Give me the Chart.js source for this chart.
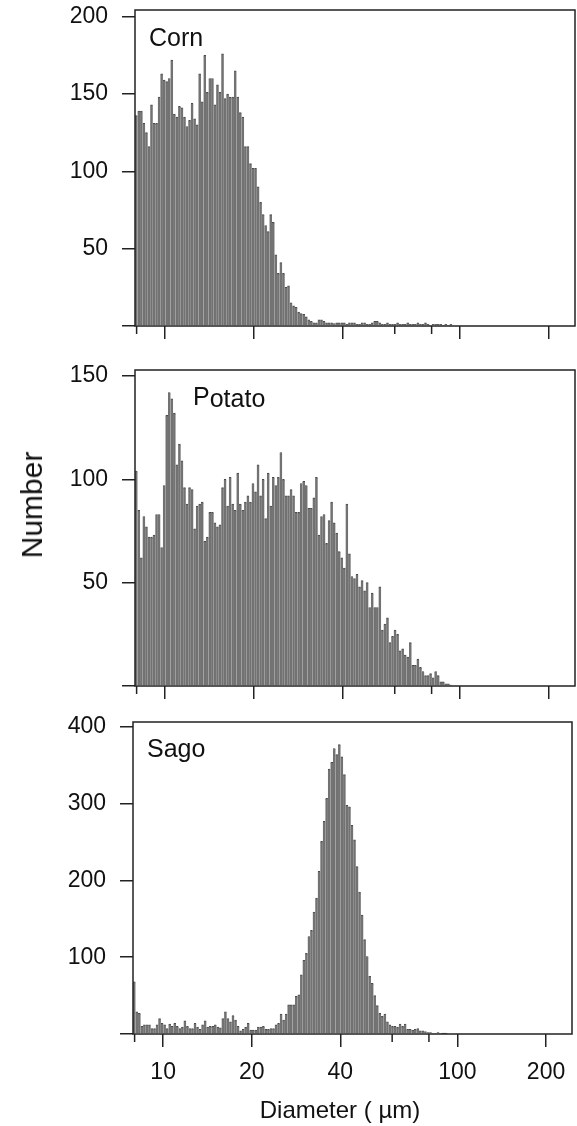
<!DOCTYPE html>
<html>
<head>
<meta charset="utf-8">
<script src="https://cdn.jsdelivr.net/npm/chart.js@4.4.1/dist/chart.umd.min.js"></script>
<style>
  body { margin: 0; background: #fff; width: 577px; height: 1126px; position: relative; overflow: hidden;
         font-family: 'Liberation Sans', Arial, sans-serif; color: #111; }
  canvas { position: absolute; left: 0; }
  .lbl { position: absolute; line-height: 1; white-space: nowrap; }
</style>
</head>
<body>
<canvas id="corn" width="577" height="340" style="top:0px"></canvas>
<canvas id="potato" width="577" height="340" style="top:360px"></canvas>
<canvas id="sago" width="577" height="414" style="top:712px"></canvas>

<div class="lbl" style="left:149px; top:25px; font-size:25px;">Corn</div>
<div class="lbl" style="left:193px; top:384px; font-size:25px;">P<span style="position:relative; top:2px;">otato</span></div>
<div class="lbl" style="left:147px; top:736px; font-size:25px;">Sago</div>
<div class="lbl" style="left:32px; top:505px; font-size:30px; transform:translate(-50%,-50%) rotate(-90deg);">Number</div>
<div class="lbl" style="left:340px; top:1098px; font-size:24px; transform:translateX(-50%);">Diameter ( µm)</div>

<script>
// channel layout: 35 channels per octave starting at 7.9 um
var binStart = 7.9;
var binsPerOctave = 35;
var xMin = 7.9, xMax = 245;
var xMajorTicks = [10, 20, 40, 100, 200];
var xMinorTicks = [8, 60, 80];

var cornCounts = [
  136, 139, 139, 131, 125, 116, 143, 131, 131, 148,
  163, 159, 158, 160, 172, 137, 135, 142, 141, 135,
  129, 133, 144, 134, 130, 163, 145, 175, 151, 160,
  160, 143, 156, 151, 176, 147, 150, 148, 148, 165,
  148, 138, 135, 116, 116, 105, 102, 102, 90, 80,
  72, 65, 61, 72, 67, 46, 34, 41, 34, 25,
  26, 15, 13, 12, 9, 8, 7.5, 6, 4, 3,
  2, 2, 4, 4, 3, 2, 2, 2, 1.5, 2,
  2, 2, 2, 1, 2, 2, 2, 1, 1, 2,
  2, 1, 1, 2, 3, 3, 2, 1, 1, 2,
  1, 1, 1, 2, 1, 1, 1, 2, 1, 1,
  1, 2, 1, 1, 2, 1, 0, 1, 1, 1,
  1, 0, 1, 0, 1
];

var potatoCounts = [
  104, 85, 62, 82, 77, 72, 72, 73, 83, 83,
  67, 97, 131, 142, 139, 132, 107, 117, 109, 96,
  88, 96, 95, 76, 87, 88, 89, 70, 72, 84,
  84, 79, 77, 78, 96, 100, 87, 101, 88, 85,
  103, 88, 85, 89, 92, 89, 98, 94, 107, 92,
  100, 81, 103, 87, 101, 97, 101, 113, 100, 92,
  92, 95, 92, 84, 84, 98, 99, 97, 86, 86,
  91, 101, 73, 82, 83, 69, 80, 89, 79, 74,
  65, 62, 57, 88, 64, 53, 52, 54, 48, 51,
  46, 50, 38, 45, 38, 38, 48, 27, 30, 33,
  21, 24, 27, 25, 17, 18, 15, 14, 21, 10,
  10, 13, 9, 7, 5, 5, 6, 4, 7, 5,
  2, 2, 1, 1, 0.5
];

var sagoCounts = [
  68, 29, 27, 10, 12, 12, 12, 7, 7, 12,
  20, 14, 12, 7, 13, 10, 14, 10, 7, 9,
  17, 10, 7, 7, 14, 9, 6, 12, 17, 9,
  10, 10, 12, 9, 8, 20, 29, 20, 16, 24,
  18, 10, 4, 6, 9, 14, 5, 5, 5, 9,
  9, 10, 6, 6, 7, 7, 12, 14, 26, 18,
  26, 38, 38, 38, 49, 51, 77, 96, 105, 127,
  135, 159, 177, 212, 251, 277, 307, 345, 354, 372,
  364, 377, 361, 338, 298, 296, 272, 253, 218, 185,
  155, 123, 101, 75, 66, 50, 37, 27, 23, 26,
  16, 12, 10, 10, 9, 13, 10, 13, 6, 6,
  5, 6, 7, 4, 4, 3, 2, 2, 1, 1,
  2, 1, 0.5, 0.5
];

var cornYTicks = [0, 50, 100, 150, 200];
var potatoYTicks = [0, 50, 100, 150];
var sagoYTicks = [0, 100, 200, 300, 400];

var fontFamily = "'Liberation Sans', Arial, sans-serif";

function binCentre(k) {
  return binStart * Math.pow(2, (k + 0.5) / binsPerOctave);
}

// box round the plot + the short ticks at 8, 60 and 80
var framePlugin = {
  id: 'frame',
  afterDraw: function (chart) {
    var a = chart.chartArea, ctx = chart.ctx, xs = chart.scales.x;
    ctx.save();
    ctx.strokeStyle = '#222';
    ctx.lineWidth = 1.5;
    ctx.strokeRect(a.left, a.top, a.right - a.left, a.bottom - a.top);
    ctx.beginPath();
    xMinorTicks.forEach(function (v) {
      var px = xs.getPixelForValue(v);
      ctx.moveTo(px, a.bottom);
      ctx.lineTo(px, a.bottom + 8);
    });
    ctx.stroke();
    ctx.restore();
  }
};

function makeChart(id, counts, yTicks, yMax, g) {
  var points = counts.map(function (n, k) { return { x: binCentre(k), y: n }; });
  return new Chart(document.getElementById(id), {
    type: 'bar',
    data: {
      datasets: [{
        data: points,
        backgroundColor: '#727272',
        borderColor: '#4a4a4a',
        borderWidth: { top: 1, left: 0, right: 0, bottom: 0 },
        barPercentage: 1,
        categoryPercentage: 1
      }]
    },
    options: {
      responsive: false,
      animation: false,
      layout: { padding: { top: 10, right: g.right, left: 0, bottom: 0 } },
      plugins: { legend: { display: false }, tooltip: { enabled: false } },
      scales: {
        x: {
          type: 'logarithmic',
          min: xMin,
          max: xMax,
          offset: false,
          afterBuildTicks: function (s) {
            s.ticks = xMajorTicks.map(function (v) { return { value: v }; });
          },
          afterFit: function (s) {
            s.height = g.xHeight;
            s.paddingLeft = 0;
            s.paddingRight = 0;
          },
          grid: { offset: false, drawOnChartArea: false, drawTicks: true, tickLength: 13, color: '#222', lineWidth: 1.5 },
          border: { display: false },
          ticks: {
            autoSkip: false,
            maxRotation: 0,
            padding: 12,
            color: '#111',
            font: { family: fontFamily, size: 23 },
            callback: function (v) { return g.xLabels ? String(v) : ''; }
          }
        },
        y: {
          min: 0,
          max: yMax,
          afterBuildTicks: function (s) {
            s.ticks = yTicks.map(function (v) { return { value: v }; });
          },
          afterFit: function (s) {
            s.width = g.left;
            s.paddingTop = 0;
            s.paddingBottom = 0;
          },
          grid: { drawOnChartArea: false, drawTicks: true, tickLength: 13, color: '#222', lineWidth: 1.5 },
          border: { display: false },
          ticks: {
            padding: 14,
            color: '#111',
            font: { family: fontFamily, size: 23 },
            callback: function (v) { return v === 0 ? '' : String(v); }
          }
        }
      }
    },
    plugins: [framePlugin]
  });
}

makeChart('corn', cornCounts, cornYTicks, 204.3, { left: 135, right: 2, xHeight: 14, xLabels: false });
makeChart('potato', potatoCounts, potatoYTicks, 152.9, { left: 135, right: 2, xHeight: 14, xLabels: false });
makeChart('sago', sagoCounts, sagoYTicks, 406.5, { left: 133, right: 5, xHeight: 92, xLabels: true });
</script>
</body>
</html>
